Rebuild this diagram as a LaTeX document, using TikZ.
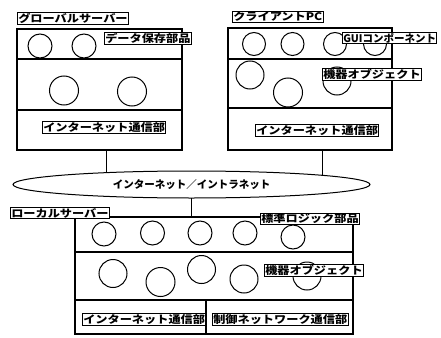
\documentclass[tikz,border=0pt]{standalone}
\usepackage{fontspec}
\newfontfamily\jp[FakeStretch=1.16]{Noto Sans CJK JP}
\newfontfamily\jpn{Noto Sans CJK JP}
\usetikzlibrary{shapes.geometric}
\tikzset{
  lbl/.style={draw, fill=white, line width=0.9pt, inner sep=0.8pt, anchor=west,
    font=\jp\bfseries\fontsize{10.5}{11}\selectfont},
  boxframe/.style={draw, line width=1.2pt, anchor=north west, inner sep=0pt, outer sep=0pt},
  divline/.style={line width=1.2pt},
  circ/.style={draw, circle, line width=1pt, inner sep=0pt, minimum size=2*#1},
  conn/.style={line width=1pt},
}
\begin{document}
\begin{tikzpicture}[x=1pt, y=-1pt]
\useasboundingbox (0,0) rectangle (441,337);
% ---------- global server ----------
\node[boxframe, minimum width=165, minimum height=121] (gbox) at (17,29) {};
\draw[divline] (gbox.west |- 0,59) -- (gbox.east |- 0,59);
\draw[divline] (gbox.west |- 0,110) -- (gbox.east |- 0,110);
\node[circ=12] (g1) at (40,46) {};
\node[circ=12] (g2) at (84,46) {};
\node[circ=14.5] (g3) at (64,90.5) {};
\node[circ=14.5] (g4) at (132,91.5) {};
\node[lbl] (gname) at (17,18.7) {グローバルサーバー};
\node[lbl] (gdata) at (104,38.5) {データ保存部品};
\node[lbl] (gnet) at (42,127.5) {インターネット通信部};
% ---------- client PC ----------
\node[boxframe, minimum width=164, minimum height=122] (cbox) at (228,28) {};
\draw[divline] (cbox.west |- 0,59) -- (cbox.east |- 0,59);
\draw[divline] (cbox.west |- 0,108) -- (cbox.east |- 0,108);
\node[circ=11.5] (c1) at (254,44) {};
\node[circ=11.5] (c2) at (292.5,44) {};
\node[circ=11.5] (c3) at (335,44) {};
\node[circ=11.5] (c4) at (375,44) {};
\node[circ=14] (c5) at (250,75) {};
\node[circ=14.5] (c6) at (288,92.5) {};
\node[circ=14] (c7) at (337,81) {};
\node[lbl] (cname) at (232,16.7) {クライアントPC};
\node[lbl, font=\jpn\bfseries\fontsize{10.5}{11}\selectfont] (cgui) at (342,38) {GUIコンポーネント};
\node[lbl] (cobj) at (322,74.5) {機器オブジェクト};
\node[lbl] (cnet) at (255,130.5) {インターネット通信部};
% ---------- network ----------
\node[draw, ellipse, line width=1pt, inner sep=0pt, outer sep=0pt,
      minimum width=357, minimum height=27,
      font=\jpn\bfseries\fontsize{10.5}{11}\selectfont] (net) at (191.5,184.5)
      {インターネット／イントラネット};
\draw[conn] (net.172.5) -- (net.172.5 |- gbox.south);
\draw[conn] (net.4.7) -- (net.4.7 |- cbox.south);
% ---------- local server ----------
\node[boxframe, minimum width=278, minimum height=117] (lbox) at (75,217) {};
\draw[conn] (net.south) -- (net.south |- lbox.north);
\draw[divline] (lbox.west |- 0,252) -- (lbox.east |- 0,252);
\draw[divline] (lbox.west |- 0,300) -- (lbox.east |- 0,300);
\draw[divline] (206,300) -- (206,334);
\node[circ=12] (l1) at (104,234) {};
\node[circ=12] (l2) at (152.5,233) {};
\node[circ=12] (l3) at (200,233) {};
\node[circ=12] (l4) at (245,233) {};
\node[circ=12] (l5) at (293,237) {};
\node[circ=14] (l6) at (113,273.5) {};
\node[circ=14.5] (l7) at (160.5,282) {};
\node[circ=14] (l8) at (201.5,269.5) {};
\node[circ=14] (l9) at (244,279) {};
\node[circ=14] (l10) at (307,276) {};
\node[lbl] (lname) at (10,213) {ローカルサーバー};
\node[lbl] (llogic) at (260,219) {標準ロジック部品};
\node[lbl] (lobj) at (264,270.5) {機器オブジェクト};
\node[lbl] (lnet) at (82,319.5) {インターネット通信部};
\node[lbl] (lctl) at (212,319.5) {制御ネットワーク通信部};
\end{tikzpicture}
\end{document}
